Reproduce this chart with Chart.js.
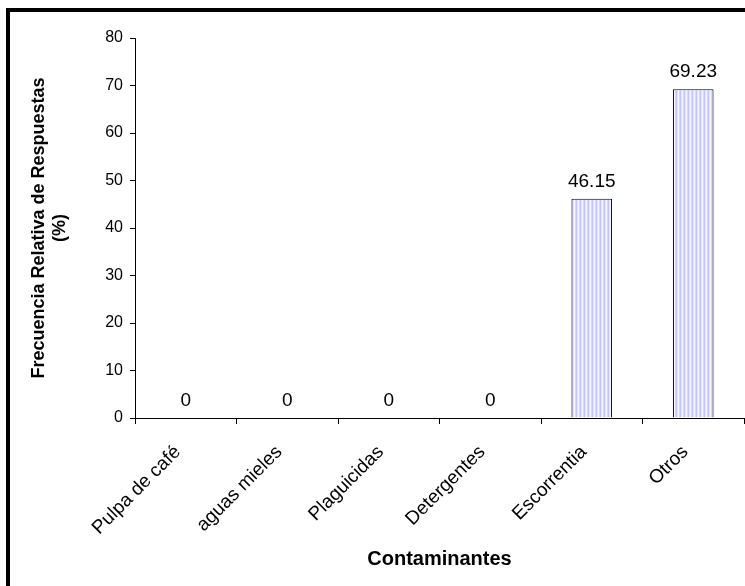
<!DOCTYPE html>
<html>
<head>
<meta charset="utf-8">
<script src="https://cdn.jsdelivr.net/npm/chart.js@4/dist/chart.umd.min.js"></script>
<style>
  html, body { margin: 0; padding: 0; background: #fff; }
  #wrap { width: 745px; height: 586px; position: relative; }
</style>
</head>
<body>
<div id="wrap"><canvas id="c" width="745" height="586"></canvas></div>
<script>
const categories = ["Pulpa de café", "aguas mieles", "Plaguicidas", "Detergentes", "Escorrentia", "Otros"];
const values = [0, 0, 0, 0, 46.15, 69.23];
const yTicks = [0, 10, 20, 30, 40, 50, 60, 70, 80];
const xTitle = "Contaminantes";
const yTitle = ["Frecuencia Relativa de Respuestas", "(%)"];

const FONT = "'Liberation Sans', Arial, sans-serif";

function makePattern() {
  const p = document.createElement('canvas');
  p.width = 4; p.height = 4;
  const g = p.getContext('2d');
  const cols = ['#c4c4f8', '#e2e2ff', '#f6f6ff', '#d6d6fc'];
  cols.forEach((c, i) => { g.fillStyle = c; g.fillRect(i, 0, 1, 4); });
  return g.createPattern(p, 'repeat');
}

const framePlugin = {
  id: 'frame',
  afterDraw(chart) {
    const ctx = chart.ctx;
    ctx.save();
    ctx.strokeStyle = '#000';
    ctx.lineWidth = 4;
    ctx.strokeRect(8, 10, 900, 900);
    ctx.restore();
  }
};

const labelPlugin = {
  id: 'valueLabels',
  afterDatasetsDraw(chart) {
    const ctx = chart.ctx;
    const meta = chart.getDatasetMeta(0);
    ctx.save();
    ctx.font = "19px " + FONT;
    ctx.fillStyle = '#000';
    ctx.textAlign = 'center';
    ctx.textBaseline = 'alphabetic';
    meta.data.forEach((bar, i) => {
      const v = values[i];
      ctx.fillText(String(v), bar.x, bar.y - 12);
    });
    ctx.restore();
  }
};

new Chart(document.getElementById('c'), {
  type: 'bar',
  data: {
    labels: categories,
    datasets: [{
      data: values,
      backgroundColor: makePattern(),
      borderColor: '#000',
      borderWidth: 1,
      barPercentage: 0.4,
      categoryPercentage: 1.0
    }]
  },
  options: {
    responsive: false,
    animation: false,
    devicePixelRatio: 1,
    layout: { padding: { top: 38, right: 1, bottom: 0, left: 0 } },
    plugins: { legend: { display: false }, tooltip: { enabled: false } },
    scales: {
      x: {
        offset: true,
        grid: { display: true, drawOnChartArea: false, drawTicks: true, tickLength: 6, color: '#000', offset: true },
        border: { display: true, color: '#000', width: 1 },
        ticks: {
          color: '#000', font: { family: FONT, size: 19 },
          maxRotation: 45, minRotation: 45, autoSkip: false, padding: 17, labelOffset: -8
        },
        title: { display: true, text: xTitle, color: '#000', font: { family: FONT, size: 20, weight: 'bold' }, padding: { top: 0, bottom: 15 } },
        afterFit(scale) { scale.height = 168; }
      },
      y: {
        min: 0, max: 80,
        grid: { display: true, drawOnChartArea: false, drawTicks: true, tickLength: 5, color: '#000' },
        border: { display: true, color: '#000', width: 1 },
        afterBuildTicks(scale) { scale.ticks = yTicks.map(v => ({ value: v })); },
        ticks: { color: '#000', font: { family: FONT, size: 16 }, padding: 7 },
        title: { display: true, text: yTitle, color: '#000', font: { family: FONT, size: 18, weight: 'bold' }, padding: { top: 28, bottom: 0 } },
        afterFit(scale) { scale.width = 135; }
      }
    }
  },
  plugins: [framePlugin, labelPlugin]
});
</script>
</body>
</html>
